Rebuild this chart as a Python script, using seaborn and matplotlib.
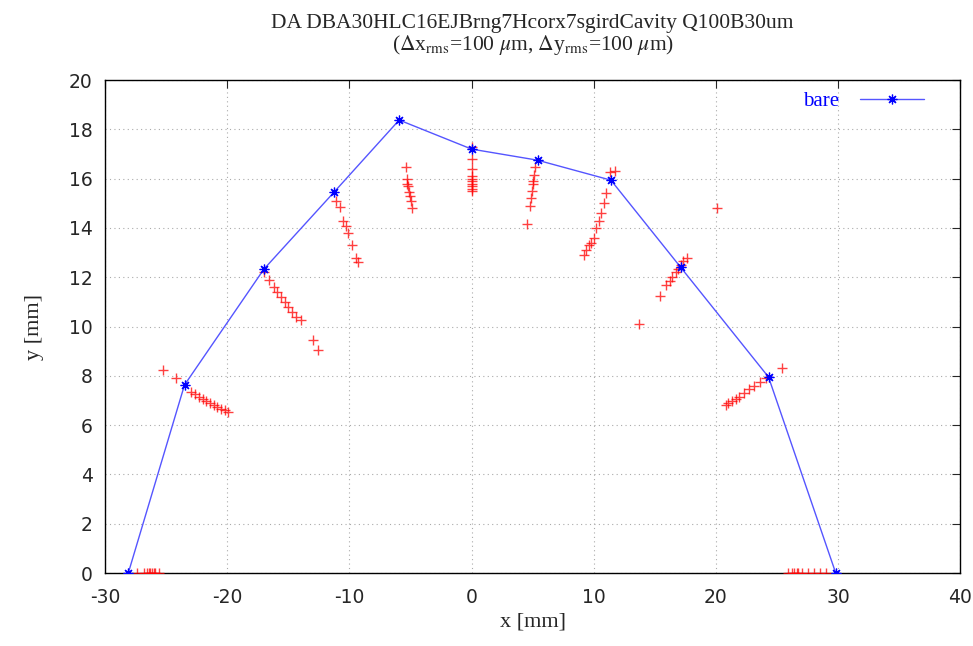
import numpy as np
import pandas as pd
import seaborn as sns
import matplotlib.pyplot as plt

# --- bare lattice DA boundary ---
bare_x = [-28.1, -23.5, -17.0, -11.25, -5.93, 0.0, 5.4, 11.4, 17.1, 24.3, 29.8]
bare_y = [0.0, 7.63, 12.33, 15.46, 18.38, 17.2, 16.75, 15.94, 12.41, 7.95, 0.0]

# --- DA with errors (seeds) ---
err_x = [
    # bottom left
    -27.4, -26.8, -26.6, -26.4, -26.3, -26.2, -26.0, -25.9, -25.6,
    # left low
    -25.3, -24.2, -23.0, -22.6, -22.3, -22.0, -21.7, -21.4, -21.1, -20.8, -20.5, -20.2, -19.9,
    # left mid
    -17.0, -16.6, -16.2, -15.9, -15.6, -15.3, -15.0, -14.7, -14.4, -14.0, -13.0, -12.6,
    # left upper
    -11.1, -10.8, -10.5, -10.3, -10.1, -9.8, -9.5, -9.3,
    # near -5
    -5.4, -5.3, -5.25, -5.2, -5.1, -5.05, -4.95, -4.9,
    # x = 0
    0.0, 0.0, 0.0, 0.0, 0.0, 0.0, 0.0, 0.0, 0.0, 0.0,
    # near 5
    5.2, 5.1, 5.05, 5.0, 4.95, 4.9, 4.8, 4.5,
    # near 10
    11.7, 11.3, 11.0, 10.8, 10.6, 10.4, 10.2, 10.0, 9.8, 9.6, 9.4, 9.2,
    # outliers right
    20.1, 13.7, 15.4,
    # right mid
    15.9, 16.2, 16.4, 16.7, 16.9, 17.1, 17.3, 17.6,
    # right low
    20.8, 21.0, 21.3, 21.6, 21.9, 22.3, 22.7, 23.1, 23.6, 24.1, 25.4,
    # bottom right
    25.9, 26.2, 26.4, 26.6, 26.7, 27.0, 27.5, 28.0, 28.5, 29.0,
]
err_y = [
    0, 0, 0, 0, 0, 0, 0, 0, 0,
    8.25, 7.9, 7.34, 7.25, 7.15, 7.05, 6.98, 6.9, 6.82, 6.75, 6.67, 6.6, 6.53,
    12.2, 11.9, 11.6, 11.4, 11.2, 11.0, 10.8, 10.6, 10.4, 10.26, 9.45, 9.05,
    15.1, 14.85, 14.3, 14.1, 13.8, 13.3, 12.8, 12.6,
    16.47, 16.0, 15.8, 15.7, 15.45, 15.3, 15.1, 14.8,
    17.3, 16.8, 16.4, 16.1, 16.0, 15.9, 15.8, 15.7, 15.6, 15.5,
    16.47, 16.15, 15.9, 15.8, 15.5, 15.2, 14.9, 14.16,
    16.3, 16.27, 15.4, 15.0, 14.6, 14.3, 14.0, 13.6, 13.4, 13.3, 13.1, 12.9,
    14.8, 10.1, 11.24,
    11.7, 11.85, 12.0, 12.2, 12.35, 12.5, 12.65, 12.8,
    6.8, 6.88, 6.97, 7.05, 7.15, 7.3, 7.45, 7.6, 7.75, 7.9, 8.3,
    0, 0, 0, 0, 0, 0, 0, 0, 0, 0,
]

df_err = pd.DataFrame({'x': err_x, 'y': err_y})
df_bare = pd.DataFrame({'x': bare_x, 'y': bare_y})

sns.set_style('white')
plt.rcParams['font.family'] = ['Liberation Serif', 'DejaVu Serif']
plt.rcParams['mathtext.fontset'] = 'stix'
plt.rcParams['axes.unicode_minus'] = False

fig = plt.figure(figsize=(9.73, 6.46), dpi=100)
ax = fig.add_axes([0.108, 0.113, 0.879, 0.763])

sns.scatterplot(data=df_err, x='x', y='y', marker='+', color='red', s=45,
                linewidth=1.0, alpha=0.75, ax=ax, zorder=3)
sns.lineplot(data=df_bare, x='x', y='y', sort=False, color='#5555ff', linewidth=1.0,
             marker=(8, 2, 0), markersize=7, markeredgecolor='blue', markeredgewidth=0.9,
             label='bare', ax=ax, zorder=4)

ax.set_xlim(-30, 40)
ax.set_ylim(0, 20)
ax.set_xticks(np.arange(-30, 41, 10))
ax.set_yticks(np.arange(0, 21, 2))
ax.grid(True, color='#aaaaaa', linestyle=(0, (1, 3)), linewidth=0.8)
ax.tick_params(direction='in', top=True, right=True, length=6, labelsize=13.5)
ax.tick_params(axis='x', pad=11)
ax.tick_params(axis='y', pad=9)
for lab in ax.get_xticklabels() + ax.get_yticklabels():
    lab.set_family('DejaVu Sans')
for sp in ax.spines.values():
    sp.set_color('black')
    sp.set_linewidth(1.0)

ax.set_xlabel('x [mm]', fontsize=16, labelpad=4)
ax.set_ylabel('y [mm]', fontsize=16, labelpad=18)
ax.set_title('DA DBA30HLC16EJBrng7Hcorx7sgirdCavity Q100B30um\n'
             r'($\Delta$x$_{\rm rms}$=100 $\mu$m, $\Delta$y$_{\rm rms}$=100 $\mu$m)',
             fontsize=15.5, linespacing=1.0, pad=22)

leg = ax.legend(loc='upper right', frameon=False, markerfirst=False, fontsize=15,
                handlelength=3.1, handletextpad=1.0, bbox_to_anchor=(0.98, 1.015))
for t in leg.get_texts():
    t.set_color('blue')

fig.savefig('out.png', dpi=100)
